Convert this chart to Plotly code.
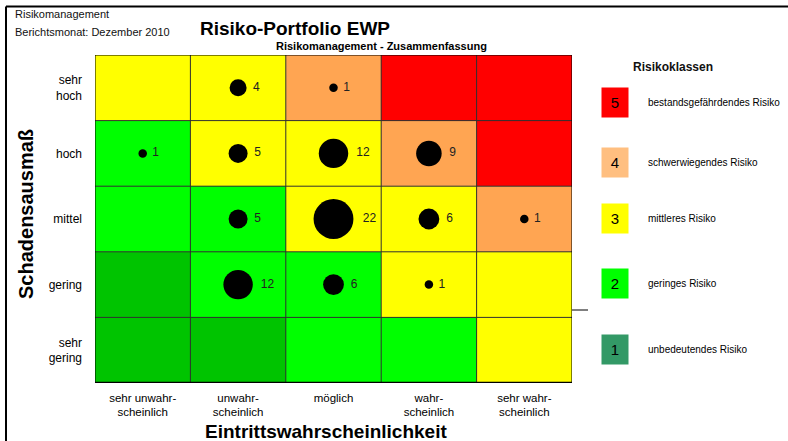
import plotly.graph_objects as go

# ---------------- data ----------------
x_categories = ["sehr unwahr-<br>scheinlich", "unwahr-<br>scheinlich", "möglich",
                "wahr-<br>scheinlich", "sehr wahr-<br>scheinlich"]
y_categories = ["sehr<br>gering", "gering", "mittel", "hoch", "sehr<br>hoch"]  # bottom -> top

# risk class per cell, rows bottom -> top
risk_class = [
    [1, 1, 2, 2, 3],   # sehr gering
    [1, 2, 2, 3, 3],   # gering
    [2, 2, 3, 3, 4],   # mittel
    [2, 3, 3, 4, 5],   # hoch
    [3, 3, 4, 5, 5],   # sehr hoch
]

# bubbles: column index, row index, number of risks
bubble_col = [1, 2, 0, 1, 2, 3, 1, 2, 3, 4, 1, 2, 3]
bubble_row = [4, 4, 3, 3, 3, 3, 2, 2, 2, 2, 1, 1, 1]
bubble_count = [4, 1, 1, 5, 12, 9, 5, 22, 6, 1, 12, 6, 1]

legend_classes = [5, 4, 3, 2, 1]
legend_labels = ["bestandsgefährdendes Risiko", "schwerwiegendes Risiko",
                 "mittleres Risiko", "geringes Risiko", "unbedeutendes Risiko"]
legend_colors = ["#FF0000", "#FFBF80", "#FFFF00", "#00FF00", "#339966"]

cell_colors = {1: "#00C400", 2: "#00FF00", 3: "#FFFF00", 4: "#FFA552", 5: "#FF0000"}

# ---------------- figure ----------------
W, H = 788, 441
L, R, T, B = 95, 572, 55, 383


def px(xp):
    return (xp - L) / (R - L)


def py(yp):
    return (B - yp) / (B - T)


FONT = "Liberation Sans, Arial, sans-serif"

colorscale = []
for k in range(1, 6):
    colorscale.append([(k - 1) / 5, cell_colors[k]])
    colorscale.append([k / 5, cell_colors[k]])

fig = go.Figure()
fig.add_trace(go.Heatmap(
    z=risk_class,
    x=[i + 0.5 for i in range(5)],
    y=[i + 0.5 for i in range(5)],
    zmin=0.5, zmax=5.5,
    colorscale=colorscale,
    showscale=False,
    hoverinfo="skip",
))

fig.add_trace(go.Scatter(
    x=[c + 0.5 for c in bubble_col],
    y=[r + 0.5 for r in bubble_row],
    mode="markers+text",
    marker=dict(size=bubble_count, sizemode="area", sizeref=2 / 72.25,
                color="black", opacity=1, line=dict(width=0)),
    text=["\u00a0" + str(n) for n in bubble_count],
    textposition="middle right",
    textfont=dict(family=FONT, size=12, color="#222222"),
    hoverinfo="skip",
    cliponaxis=False,
))

shapes = []
# internal grid lines
for i in range(1, 5):
    shapes.append(dict(type="line", xref="x", yref="y", x0=i, x1=i, y0=0, y1=5,
                       line=dict(color="#303030", width=1), layer="above"))
    shapes.append(dict(type="line", xref="x", yref="y", x0=0, x1=5, y0=i, y1=i,
                       line=dict(color="#303030", width=1), layer="above"))
# outer border
shapes.append(dict(type="rect", xref="x", yref="y", x0=0, x1=5, y0=0, y1=5,
                   line=dict(color="black", width=1), layer="above"))
shapes.append(dict(type="line", xref="x", yref="y", x0=0, x1=5, y0=0, y1=0,
                   line=dict(color="black", width=2.5), layer="above"))
# small tick line right of grid
shapes.append(dict(type="line", xref="paper", yref="paper", x0=px(572), x1=px(588),
                   y0=py(310), y1=py(310), line=dict(color="black", width=1)))
# page frame
shapes.append(dict(type="line", xref="paper", yref="paper", x0=px(6), x1=px(788),
                   y0=py(6.5), y1=py(6.5), line=dict(color="black", width=2)))
shapes.append(dict(type="line", xref="paper", yref="paper", x0=px(6), x1=px(6),
                   y0=py(6.5), y1=py(441), line=dict(color="black", width=2)))

annotations = [
    dict(text="Risikomanagement", x=px(13), y=py(14), xanchor="left", yanchor="middle",
         font=dict(family=FONT, size=11, color="#111")),
    dict(text="Berichtsmonat: Dezember 2010", x=px(13), y=py(32), xanchor="left",
         yanchor="middle", font=dict(family=FONT, size=11, color="#111")),
    dict(text="<b>Risiko-Portfolio EWP</b>", x=px(295), y=py(29), xanchor="center",
         yanchor="middle", font=dict(family=FONT, size=19, color="black")),
    dict(text="<b>Risikomanagement - Zusammenfassung</b>", x=px(489), y=py(46),
         xanchor="right", yanchor="middle", font=dict(family=FONT, size=11, color="black")),
    dict(text="<b>Eintrittswahrscheinlichkeit</b>", x=px(326), y=py(431.5),
         xanchor="center", yanchor="middle", font=dict(family=FONT, size=19, color="black")),
    dict(text="<b>Schadensausmaß</b>", x=px(26), y=py(214), textangle=-90,
         xanchor="center", yanchor="middle", font=dict(family=FONT, size=20, color="black")),
    dict(text="<b>Risikoklassen</b>", x=px(673), y=py(67), xanchor="center",
         yanchor="middle", font=dict(family=FONT, size=12, color="#111")),
]

legend_y = [102, 162, 218, 283, 349]
for cls, lab, col, yy in zip(legend_classes, legend_labels, legend_colors, legend_y):
    annotations.append(dict(text=str(cls), x=px(615), y=py(yy), xanchor="center",
                            yanchor="middle", width=26, height=29, bgcolor=col,
                            borderpad=0, font=dict(family=FONT, size=15, color="black")))
    annotations.append(dict(text=lab, x=px(646), y=py(yy), xanchor="left",
                            yanchor="middle", font=dict(family=FONT, size=10, color="black")))

for a in annotations:
    a.setdefault("xref", "paper")
    a.setdefault("yref", "paper")
    a["showarrow"] = False

fig.update_layout(
    width=W, height=H, autosize=False,
    margin=dict(l=L, r=W - R, t=T, b=H - B, pad=0),
    paper_bgcolor="white", plot_bgcolor="white",
    showlegend=False,
    shapes=shapes,
    annotations=annotations,
    xaxis=dict(range=[0, 5], tickvals=[i + 0.5 for i in range(5)], ticktext=x_categories,
               showgrid=False, zeroline=False, ticks="", ticklabelstandoff=6,
               tickfont=dict(family=FONT, size=11.5, color="black"), fixedrange=True),
    yaxis=dict(range=[0, 5], tickvals=[i + 0.5 for i in range(5)], ticktext=y_categories,
               showgrid=False, zeroline=False, ticks="", ticklabelstandoff=12,
               tickfont=dict(family=FONT, size=12, color="black"), fixedrange=True),
)

fig.write_html("out.html", config={"displayModeBar": False},
               post_script="document.body.style.margin='0';document.body.style.overflow='hidden';")
